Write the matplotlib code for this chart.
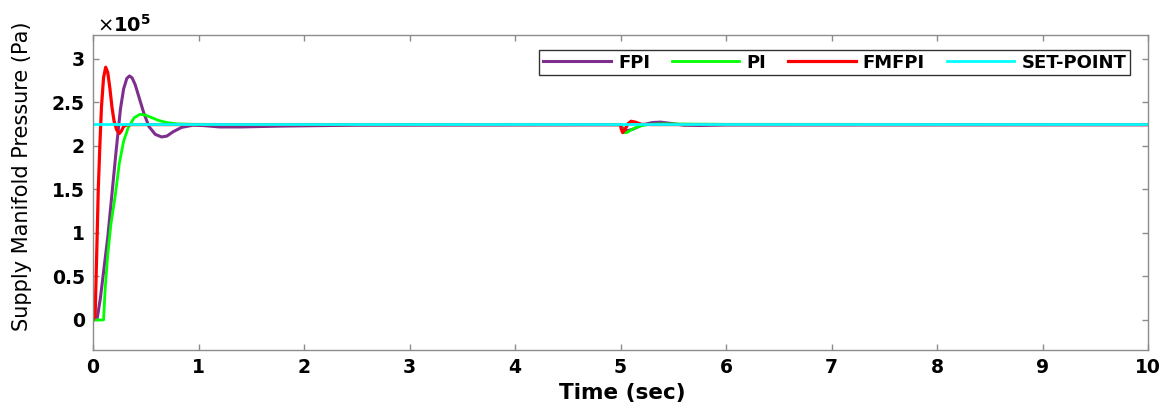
#!/usr/bin/env python3

import matplotlib
matplotlib.use("Agg")
import matplotlib.pyplot as plt

# pressure values are in units of 1e5 Pa
t_fpi = [0, 0.04, 0.07, 0.10, 0.14, 0.18, 0.22, 0.26, 0.29, 0.32, 0.345, 0.37,
         0.40, 0.44, 0.48, 0.53, 0.59, 0.65, 0.70, 0.76, 0.84, 0.95, 1.05, 1.2,
         1.4, 1.8, 2.5, 5.0, 5.02, 5.06, 5.12, 5.2, 5.3, 5.38, 5.48, 5.6, 5.75,
         6.0, 10]
v_fpi = [0, 0.02, 0.25, 0.55, 0.95, 1.45, 1.95, 2.42, 2.65, 2.77, 2.80, 2.78,
         2.70, 2.54, 2.38, 2.22, 2.13, 2.10, 2.11, 2.16, 2.21, 2.235, 2.23, 2.215,
         2.215, 2.225, 2.235, 2.24, 2.20, 2.17, 2.19, 2.235, 2.265, 2.27, 2.255,
         2.235, 2.232, 2.238, 2.24]

t_pi = [0, 0.10, 0.115, 0.14, 0.17, 0.21, 0.25, 0.29, 0.335, 0.39, 0.445, 0.5,
        0.56, 0.62, 0.7, 0.8, 0.95, 1.5, 5.0, 5.01, 5.03, 5.06, 5.1, 5.15, 5.2,
        5.28, 5.4, 6.0, 10]
v_pi = [0, 0, 0.35, 0.75, 1.1, 1.42, 1.8, 2.05, 2.21, 2.32, 2.36, 2.35,
        2.32, 2.29, 2.265, 2.25, 2.245, 2.243, 2.243, 2.20, 2.15, 2.15, 2.18,
        2.21, 2.23, 2.245, 2.25, 2.245, 2.243]

t_fmfpi = [0, 0.02, 0.035, 0.05, 0.065, 0.08, 0.10, 0.12, 0.14, 0.16, 0.18,
           0.20, 0.225, 0.25, 0.27, 0.29, 0.32, 0.4, 5.0, 5.005, 5.02, 5.04,
           5.07, 5.1, 5.14, 5.2, 5.3, 10]
v_fmfpi = [0, 0.05, 0.75, 1.5, 2.0, 2.44, 2.78, 2.9, 2.84, 2.66, 2.44,
           2.28, 2.18, 2.14, 2.17, 2.22, 2.24, 2.242, 2.242, 2.20, 2.15, 2.18,
           2.25, 2.28, 2.27, 2.245, 2.242, 2.242]

t_sp = [0, 10]
v_sp = [2.25, 2.25]

x_ticks = list(range(0, 11))
y_ticks = [0, 0.5, 1, 1.5, 2, 2.5, 3]
y_ticklabels = ["0", "0.5", "1", "1.5", "2", "2.5", "3"]

plt.rcParams["font.family"] = ["DejaVu Sans"]

fig = plt.figure(figsize=(11.68, 4.08), dpi=100)
ax = fig.add_axes([93 / 1168, 58 / 408, 1055 / 1168, 315 / 408])

ax.plot(t_fpi, v_fpi, color="#7E2F8E", lw=2.2, label="FPI")
ax.plot(t_pi, v_pi, color="#00FF00", lw=2.0, label="PI")
ax.plot(t_fmfpi, v_fmfpi, color="#FF0000", lw=2.3, label="FMFPI")
ax.plot(t_sp, v_sp, color="#00FFFF", lw=2.0, label="SET-POINT")

ax.set_xlim(0, 10)
ax.set_ylim(-0.345, 3.27)
ax.set_xticks(x_ticks)
ax.set_yticks(y_ticks)
ax.set_yticklabels(y_ticklabels)

for s in ax.spines.values():
    s.set_color("#8c8c8c")
    s.set_linewidth(1.0)
ax.tick_params(direction="in", length=4, width=1, color="#8c8c8c",
               top=True, right=True, labelsize=13.5, pad=6)
for lab in ax.get_xticklabels() + ax.get_yticklabels():
    lab.set_fontweight("bold")

ax.set_xlabel("Time (sec)", fontsize=15.5, fontweight="bold")
ax.xaxis.set_label_coords(0.502, -0.105)
ax.set_ylabel("Supply Manifold Pressure (Pa)", fontsize=15)
ax.yaxis.set_label_coords(-0.058, 0.55)

ax.text(0.004, 1.01, r"$\times\mathbf{10}^{\mathbf{5}}$", transform=ax.transAxes,
        fontsize=14, ha="left", va="baseline")

leg = ax.legend(loc="upper right", bbox_to_anchor=(0.983, 0.952), ncol=4,
                fancybox=False, framealpha=1, edgecolor="#333333",
                borderaxespad=0, borderpad=0.2, handlelength=3.75,
                handletextpad=0.4, columnspacing=1.2,
                prop={"weight": "bold", "size": 13})
leg.get_frame().set_linewidth(1.0)

fig.savefig("out.png", dpi=100)
